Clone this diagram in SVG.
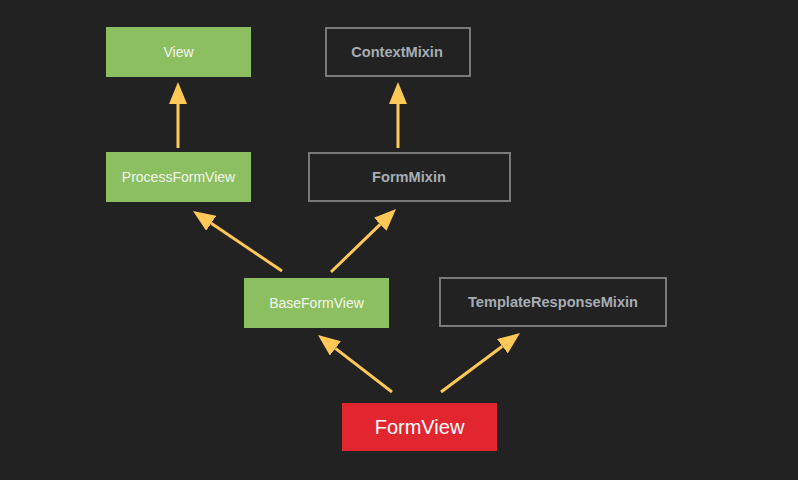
<svg xmlns="http://www.w3.org/2000/svg" width="798" height="480" viewBox="0 0 798 480">
<defs>
<marker id="arr" markerUnits="userSpaceOnUse" markerWidth="22" markerHeight="18" refX="0" refY="9" orient="auto">
<path d="M0,0 L22,9 L0,18 z" fill="#ffc857"/>
</marker>
<style>
.g rect{fill:#8bbf60}
.g text{fill:#f4f6ee;font-family:"Liberation Sans",Arial,sans-serif;font-size:14px;text-anchor:middle}
.m rect{fill:#222222;stroke:#7a7a7a;stroke-width:2}
.m text{fill:#a6adb4;font-family:"Liberation Sans",Arial,sans-serif;font-size:14.6px;font-weight:bold;text-anchor:middle}
.r rect{fill:#e1262f}
.r text{fill:#ffffff;font-family:"Liberation Sans",Arial,sans-serif;font-size:20px;text-anchor:middle}
#edges line{stroke:#ffc857;stroke-width:3;marker-end:url(#arr)}
</style>
</defs>
<rect width="798" height="480" fill="#222222"/>
<g id="edges">
<line x1="178" y1="148" x2="178" y2="104"/>
<line x1="398" y1="148" x2="398" y2="104"/>
<line x1="282" y1="271" x2="211.2" y2="223.3"/>
<line x1="331" y1="272" x2="380.2" y2="224.3"/>
<line x1="392" y1="392" x2="335.4" y2="348.4"/>
<line x1="441" y1="392" x2="502.4" y2="346.2"/>
</g>
<g id="View" class="g"><rect x="106" y="27" width="145" height="50"/><text x="178.5" y="57">View</text></g>
<g id="ContextMixin" class="m"><rect x="326" y="28" width="144" height="48"/><text x="397" y="57">ContextMixin</text></g>
<g id="ProcessFormView" class="g"><rect x="106" y="152" width="145" height="50"/><text x="178.5" y="182">ProcessFormView</text></g>
<g id="FormMixin" class="m"><rect x="309" y="153" width="201" height="48"/><text x="409" y="182">FormMixin</text></g>
<g id="BaseFormView" class="g"><rect x="244" y="278" width="145" height="50"/><text x="316.5" y="308">BaseFormView</text></g>
<g id="TemplateResponseMixin" class="m"><rect x="440" y="278" width="226" height="48"/><text x="553" y="307">TemplateResponseMixin</text></g>
<g id="FormView" class="r"><rect x="342" y="403" width="155" height="48"/><text x="419.5" y="434">FormView</text></g>
</svg>
